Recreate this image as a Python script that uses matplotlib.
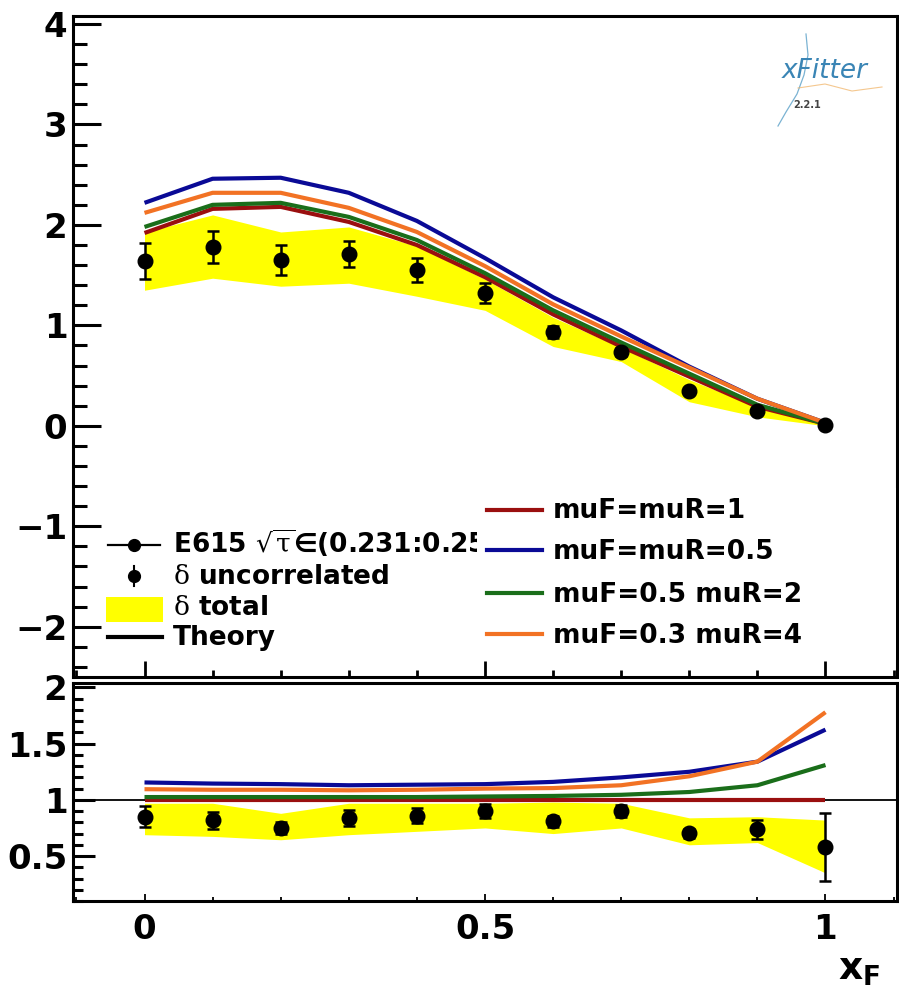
import matplotlib
matplotlib.use('Agg')
import matplotlib.pyplot as plt
from matplotlib.patches import Rectangle
from matplotlib.lines import Line2D
from matplotlib.ticker import MultipleLocator, FuncFormatter

plt.rcParams['font.family'] = ['DejaVu Sans']
plt.rcParams['mathtext.fontset'] = 'dejavusans'

# ---------------- data ----------------
xF = [0.0, 0.1, 0.2, 0.3, 0.4, 0.5, 0.6, 0.7, 0.8, 0.9, 1.0]

data_val = [1.64, 1.78, 1.65, 1.71, 1.55, 1.32, 0.93, 0.74, 0.35, 0.15, 0.01]
data_unc = [0.18, 0.16, 0.15, 0.13, 0.12, 0.10, 0.06, 0.04, 0.03, 0.02, 0.01]
band_lo = [1.35, 1.47, 1.39, 1.42, 1.29, 1.15, 0.79, 0.64, 0.24, 0.09, 0.00]
band_hi = [1.93, 2.10, 1.93, 1.98, 1.79, 1.46, 1.08, 0.78, 0.46, 0.19, 0.02]

th_muF1_muR1 = [1.92, 2.16, 2.18, 2.03, 1.80, 1.48, 1.11, 0.79, 0.49, 0.19, 0.02]
th_muF05_muR05 = [2.22, 2.46, 2.47, 2.32, 2.04, 1.67, 1.28, 0.95, 0.59, 0.27, 0.03]
th_muF05_muR2 = [1.98, 2.20, 2.22, 2.08, 1.85, 1.52, 1.15, 0.83, 0.52, 0.21, 0.02]
th_muF03_muR4 = [2.12, 2.32, 2.32, 2.17, 1.93, 1.59, 1.21, 0.89, 0.58, 0.27, 0.03]

ratio_val = [0.85, 0.82, 0.75, 0.84, 0.86, 0.90, 0.81, 0.90, 0.705, 0.74, 0.58]
ratio_unc = [0.095, 0.075, 0.05, 0.07, 0.07, 0.06, 0.05, 0.05, 0.04, 0.085, 0.30]
ratio_band_lo = [0.69, 0.675, 0.645, 0.69, 0.72, 0.75, 0.70, 0.75, 0.60, 0.62, 0.35]
ratio_band_hi = [0.97, 0.97, 0.88, 0.97, 0.97, 0.97, 0.98, 0.97, 0.84, 0.85, 0.82]

r_muF1_muR1 = [1.0, 1.0, 1.0, 1.0, 1.0, 1.0, 1.0, 1.0, 1.0, 1.0, 1.0]
r_muF05_muR05 = [1.155, 1.145, 1.14, 1.13, 1.135, 1.14, 1.16, 1.20, 1.25, 1.34, 1.625]
r_muF05_muR2 = [1.025, 1.025, 1.025, 1.025, 1.025, 1.03, 1.035, 1.045, 1.07, 1.13, 1.31]
r_muF03_muR4 = [1.095, 1.09, 1.09, 1.085, 1.09, 1.10, 1.105, 1.13, 1.21, 1.34, 1.78]

series_labels = ['muF=muR=1', 'muF=muR=0.5', 'muF=0.5 muR=2', 'muF=0.3 muR=4']
series_colors = ['#9a0f0f', '#0a0a96', '#1a6e1a', '#f27224']
data_label = r'E615 $\sqrt{\mathrm{\tau}}$∈(0.231:0.25)'

# ---------------- figure ----------------
W, H = 899, 992
fig = plt.figure(figsize=(W / 100, H / 100), dpi=100)

def fbox(l, t, r, b):
    return [l / W, 1 - b / H, (r - l) / W, (b - t) / H]

ax2 = fig.add_axes(fbox(73, 683, 897, 901))
ax1 = fig.add_axes(fbox(73, 16, 897, 677))

yellow = '#ffff00'
spine_w = 2.2

# ---- top panel ----
ax1.fill_between(xF, band_lo, band_hi, color=yellow, lw=0, zorder=1)
top_series = [th_muF1_muR1, th_muF05_muR05, th_muF05_muR2, th_muF03_muR4]
for ys, c in zip(top_series, series_colors):
    ax1.plot(xF, ys, color=c, lw=3, solid_capstyle='butt', zorder=2)
ax1.errorbar(xF, data_val, yerr=data_unc, fmt='o', color='black', ms=10.5,
             elinewidth=1.8, capsize=4, capthick=1.8, zorder=4)
ax1.set_xlim(-0.105, 1.105)
ax1.set_ylim(-2.5, 4.08)

# ---- ratio panel ----
ax2.fill_between(xF, ratio_band_lo, ratio_band_hi, color=yellow, lw=0, zorder=1)
ax2.axhline(1.0, color='black', lw=1.3, zorder=1.5)
ratio_series = [r_muF1_muR1, r_muF05_muR05, r_muF05_muR2, r_muF03_muR4]
for ys, c in zip(ratio_series, series_colors):
    ax2.plot(xF, ys, color=c, lw=3, solid_capstyle='butt', zorder=2)
ax2.errorbar(xF, ratio_val, yerr=ratio_unc, fmt='o', color='black', ms=10.5,
             elinewidth=1.8, capsize=4, capthick=1.8, zorder=4)
ax2.set_xlim(-0.105, 1.105)
ax2.set_ylim(0.1, 2.04)

fmt = FuncFormatter(lambda v, p: ('%g' % v).replace('-', '\u2212'))
for ax in (ax1, ax2):
    for s in ax.spines.values():
        s.set_linewidth(spine_w)
    ax.xaxis.set_major_locator(MultipleLocator(0.5))
    ax.xaxis.set_minor_locator(MultipleLocator(0.1))
    ax.yaxis.set_major_formatter(fmt)
    ax.xaxis.set_major_formatter(fmt)

ax1.yaxis.set_major_locator(MultipleLocator(1))
ax1.yaxis.set_minor_locator(MultipleLocator(0.2))
ax1.tick_params(axis='y', which='major', direction='in', length=20, width=2.2,
                labelsize=24.5, pad=4)
ax1.tick_params(axis='y', which='minor', direction='in', length=10, width=2.2)
ax1.tick_params(axis='x', which='major', direction='in', length=11.5, width=2,
                labelbottom=False)
ax1.tick_params(axis='x', which='minor', direction='in', length=5, width=2)

ax2.yaxis.set_major_locator(MultipleLocator(0.5))
ax2.yaxis.set_minor_locator(MultipleLocator(0.1))
ax2.tick_params(axis='y', which='major', direction='in', length=16, width=2.2,
                labelsize=24.5, pad=4)
ax2.tick_params(axis='y', which='minor', direction='in', length=7, width=2.2)
ax2.tick_params(axis='x', which='major', direction='in', length=5, width=1.3,
                labelsize=24.5, pad=8.5)
ax2.tick_params(axis='x', which='minor', direction='in', length=3, width=1.3)
for lab in ax1.get_yticklabels() + ax2.get_yticklabels() + ax2.get_xticklabels():
    lab.set_fontweight('bold')

# ---- legends (drawn by hand in axes fraction) ----
def A(px, py):
    return ((px - 73) / 824, (677 - py) / 661)

T = ax1.transAxes
fs_leg = 19

# legend 1
x0, x1 = A(108, 0)[0], A(160, 0)[0]
xm = A(134, 0)[0]
y = A(0, 545)[1]
ax1.add_line(Line2D([x0, x1], [y, y], color='black', lw=1.6, transform=T, zorder=6))
ax1.add_line(Line2D([xm], [y], marker='o', ms=8.5, color='black', transform=T, zorder=6))
tx = A(173, 0)[0]
ax1.text(tx, A(0, 553)[1], data_label, transform=T, fontsize=fs_leg,
         fontweight='bold', math_fontfamily='dejavuserif', va='baseline', zorder=6)

y = A(0, 576)[1]
ax1.add_line(Line2D([xm, xm], [A(0, 566)[1], A(0, 586)[1]], color='black', lw=1.5,
                    transform=T, zorder=6))
ax1.add_line(Line2D([xm], [y], marker='o', ms=8.5, color='black', transform=T, zorder=6))
ax1.text(tx, A(0, 584)[1], r'$\mathrm{\delta}$ uncorrelated', transform=T, fontsize=fs_leg,
         fontweight='bold', math_fontfamily='dejavuserif', va='baseline', zorder=6)

r0 = A(106, 622)
r1 = A(163, 597)
ax1.add_patch(Rectangle(r0, r1[0] - r0[0], r1[1] - r0[1], facecolor=yellow,
                        edgecolor='none', transform=T, zorder=6))
ax1.text(tx, A(0, 615)[1], r'$\mathrm{\delta}$ total', transform=T, fontsize=fs_leg,
         fontweight='bold', math_fontfamily='dejavuserif', va='baseline', zorder=6)

y = A(0, 637)[1]
ax1.add_line(Line2D([x0, A(162, 0)[0]], [y, y], color='black', lw=3, transform=T, zorder=6))
ax1.text(tx, A(0, 645)[1], 'Theory', transform=T, fontsize=fs_leg,
         fontweight='bold', va='baseline', zorder=6)

# legend 2 (white box covering end of legend 1 first row)
b0 = A(477, 660)
b1 = A(896, 488)
ax1.add_patch(Rectangle(b0, b1[0] - b0[0], b1[1] - b0[1], facecolor='white',
                        edgecolor='none', transform=T, zorder=7))
lx0, lx1 = A(487, 0)[0], A(542, 0)[0]
ltx = A(553, 0)[0]
line_y = [510, 550, 593, 634]
base_y = [518, 559, 602, 643]
for lab, c, ly, by in zip(series_labels, series_colors, line_y, base_y):
    yy = A(0, ly)[1]
    ax1.add_line(Line2D([lx0, lx1], [yy, yy], color=c, lw=3, transform=T, zorder=8))
    ax1.text(ltx, A(0, by)[1], lab, transform=T, fontsize=fs_leg,
             fontweight='bold', va='baseline', zorder=8)

# ---- xFitter logo ----
def F(px, py):
    return (px / W, 1 - py / H)

bx, by_ = zip(*[F(806, 34), F(808, 55), F(804, 75), F(797, 94), F(786, 112), F(778, 126)])
fig.add_artist(Line2D(bx, by_, color='#5aa0c8', lw=0.9, alpha=0.8))
ox, oy = zip(*[F(798, 88), F(825, 84), F(852, 91), F(882, 87)])
fig.add_artist(Line2D(ox, oy, color='#f0b060', lw=0.8, alpha=0.7))
fig.text(*F(782, 78), 'xFitter', fontsize=19, style='italic', color='#3a85b5',
         va='baseline', ha='left')
fig.text(*F(793, 108), '2.2.1', fontsize=7, fontweight='bold', color='#444444',
         va='baseline', ha='left')

# ---- x axis title ----
fig.text(*F(838, 980), r'$\mathbf{x_F}$', fontsize=27, va='baseline', ha='left')

fig.savefig('out.png', dpi=100)
